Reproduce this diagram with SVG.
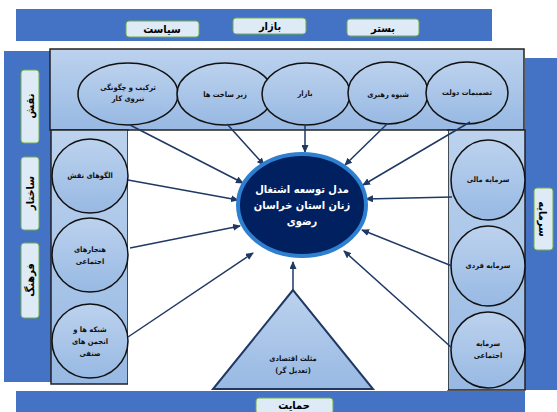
<svg xmlns="http://www.w3.org/2000/svg" width="557" height="412" viewBox="0 0 557 412">
<style>
.bar{fill:#4472C4}
.lbl{fill:#DEEBF7;stroke:#70AD47;stroke-width:1}
.lt{font-family:"DejaVu Sans Condensed","DejaVu Sans",sans-serif;font-weight:bold;font-size:11px;fill:#000;text-anchor:middle}
.band{fill:url(#g);stroke:#222;stroke-width:1.5}
.nd{fill:url(#g);stroke:#111;stroke-width:1.5}
.nt{font-family:"DejaVu Sans Condensed","DejaVu Sans",sans-serif;font-weight:bold;font-size:7.5px;fill:#111;text-anchor:middle}
.ct{font-family:"DejaVu Sans Condensed","DejaVu Sans",sans-serif;font-weight:bold;font-size:11px;fill:#fff;text-anchor:middle}
.ar{stroke:#1F3864;stroke-width:1.5;fill:none;marker-end:url(#ah)}
</style>
<defs>
<linearGradient id="g" x1="0" y1="0" x2="0" y2="1">
<stop offset="0" stop-color="#BCD2EE"/>
<stop offset="1" stop-color="#98B9E3"/>
</linearGradient>
<marker id="ah" markerUnits="userSpaceOnUse" markerWidth="8" markerHeight="7" refX="7" refY="3.5" orient="auto">
<path d="M0,0 L8,3.5 L0,7 z" fill="#1F3864"/>
</marker>
</defs>
<rect width="557" height="412" fill="#fff"/>

<g id="bar-top">
<rect class="bar" x="16" y="9" width="476" height="32"/>
<g id="siasat"><rect class="lbl" x="126" y="21" width="73" height="16" rx="3"/><text class="lt" x="162" y="33">سیاست</text></g>
<g id="bazar-top"><rect class="lbl" x="233" y="18" width="73" height="16" rx="3"/><text class="lt" x="270" y="30">بازار</text></g>
<g id="bastar"><rect class="lbl" x="347" y="19" width="72" height="17" rx="3"/><text class="lt" x="383" y="32">بستر</text></g>
</g>

<g id="bar-left">
<rect class="bar" x="4" y="51" width="47" height="331"/>
<g id="naghsh"><rect class="lbl" x="21" y="70" width="18" height="73" rx="3"/><text class="lt" transform="translate(34,106) rotate(-90)">نقش</text></g>
<g id="sakhtar"><rect class="lbl" x="21" y="157" width="18" height="73" rx="3"/><text class="lt" transform="translate(34,193) rotate(-90)">ساختار</text></g>
<g id="farhang"><rect class="lbl" x="21" y="243" width="18" height="75" rx="3"/><text class="lt" transform="translate(34,280) rotate(-90)">فرهنگ</text></g>
</g>

<g id="bar-right">
<rect class="bar" x="525" y="58" width="32" height="332"/>
<g id="sarmaye"><rect class="lbl" x="534" y="188" width="19" height="62" rx="3"/><text class="lt" transform="translate(539,219) rotate(90)">سرمایه</text></g>
</g>

<g id="bar-bottom">
<rect class="bar" x="16" y="391" width="509" height="21"/>
<g id="hemayat"><rect class="lbl" x="256" y="398" width="77" height="16" rx="3"/><text class="lt" x="294" y="409">حمایت</text></g>
</g>

<g id="panels">
<rect class="band" x="50" y="49" width="474" height="81"/>
<rect class="band" x="51" y="130" width="77" height="254"/>
<rect class="band" x="448" y="130" width="77" height="260"/>
<rect x="128" y="131" width="320" height="259" fill="#fff"/>
</g>

<g id="n-tarkib"><ellipse class="nd" cx="128" cy="94" rx="50" ry="31"/><text class="nt" x="128" y="90">ترکیب و چگونگی</text><text class="nt" x="128" y="101">نیروی کار</text></g>
<g id="n-zirsakht"><ellipse class="nd" cx="225" cy="94" rx="48" ry="31"/><text class="nt" x="225" y="97">زیر ساخت ها</text></g>
<g id="n-bazar"><ellipse class="nd" cx="306" cy="94" rx="44" ry="31"/><text class="nt" x="305" y="96">بازار</text></g>
<g id="n-shive"><ellipse class="nd" cx="388" cy="93" rx="40" ry="31"/><text class="nt" x="388" y="97">شیوه رهبری</text></g>
<g id="n-tasmim"><ellipse class="nd" cx="467" cy="93" rx="41" ry="31"/><text class="nt" x="467" y="95">تصمیمات دولت</text></g>

<g id="n-olgo"><ellipse class="nd" cx="90" cy="176" rx="38" ry="37"/><text class="nt" x="90" y="178">الگوهای نقش</text></g>
<g id="n-hanjar"><ellipse class="nd" cx="90" cy="255" rx="38" ry="37"/><text class="nt" x="90" y="252">هنجارهای</text><text class="nt" x="90" y="264">اجتماعی</text></g>
<g id="n-shabake"><ellipse class="nd" cx="90" cy="341" rx="38" ry="37"/><text class="nt" x="90" y="332">شبکه ها و</text><text class="nt" x="90" y="344">انجمن های</text><text class="nt" x="90" y="356">صنفی</text></g>

<g id="n-mali"><ellipse class="nd" cx="488" cy="180" rx="37" ry="40"/><text class="nt" x="488" y="182">سرمایه مالی</text></g>
<g id="n-fardi"><ellipse class="nd" cx="488" cy="266" rx="37" ry="40"/><text class="nt" x="488" y="268">سرمایه فردی</text></g>
<g id="n-ejtemai"><ellipse class="nd" cx="488" cy="350" rx="37" ry="38"/><text class="nt" x="488" y="346">سرمایه</text><text class="nt" x="488" y="358">اجتماعی</text></g>

<g id="n-triangle"><polygon points="293,290 213,389 373,389" fill="url(#g)" stroke="#1F3864" stroke-width="2"/><text class="nt" x="293" y="361">مثلث اقتصادی</text><text class="nt" x="293" y="373">(تعدیل گر)</text></g>

<g id="connectors">
<line class="ar" x1="130" y1="125" x2="243" y2="183"/>
<line class="ar" x1="227" y1="124" x2="264" y2="165"/>
<line class="ar" x1="305" y1="125" x2="305" y2="152"/>
<line class="ar" x1="387" y1="124" x2="345" y2="165"/>
<line class="ar" x1="470" y1="122" x2="363" y2="185"/>
<line class="ar" x1="128" y1="180" x2="238" y2="200"/>
<line class="ar" x1="130" y1="248" x2="240" y2="226"/>
<line class="ar" x1="128" y1="337" x2="253" y2="253"/>
<line class="ar" x1="452" y1="197" x2="366" y2="199"/>
<line class="ar" x1="452" y1="266" x2="362" y2="230"/>
<line class="ar" x1="452" y1="348" x2="344" y2="251"/>
<line class="ar" x1="293" y1="290" x2="293" y2="262"/>
</g>

<g id="n-center"><ellipse cx="302" cy="205" rx="64" ry="51" fill="#002060" stroke="#2E7FD0" stroke-width="4"/><text class="ct" x="302" y="193">مدل توسعه اشتغال</text><text class="ct" x="302" y="209">زنان استان خراسان</text><text class="ct" x="302" y="225">رضوی</text></g>
</svg>
